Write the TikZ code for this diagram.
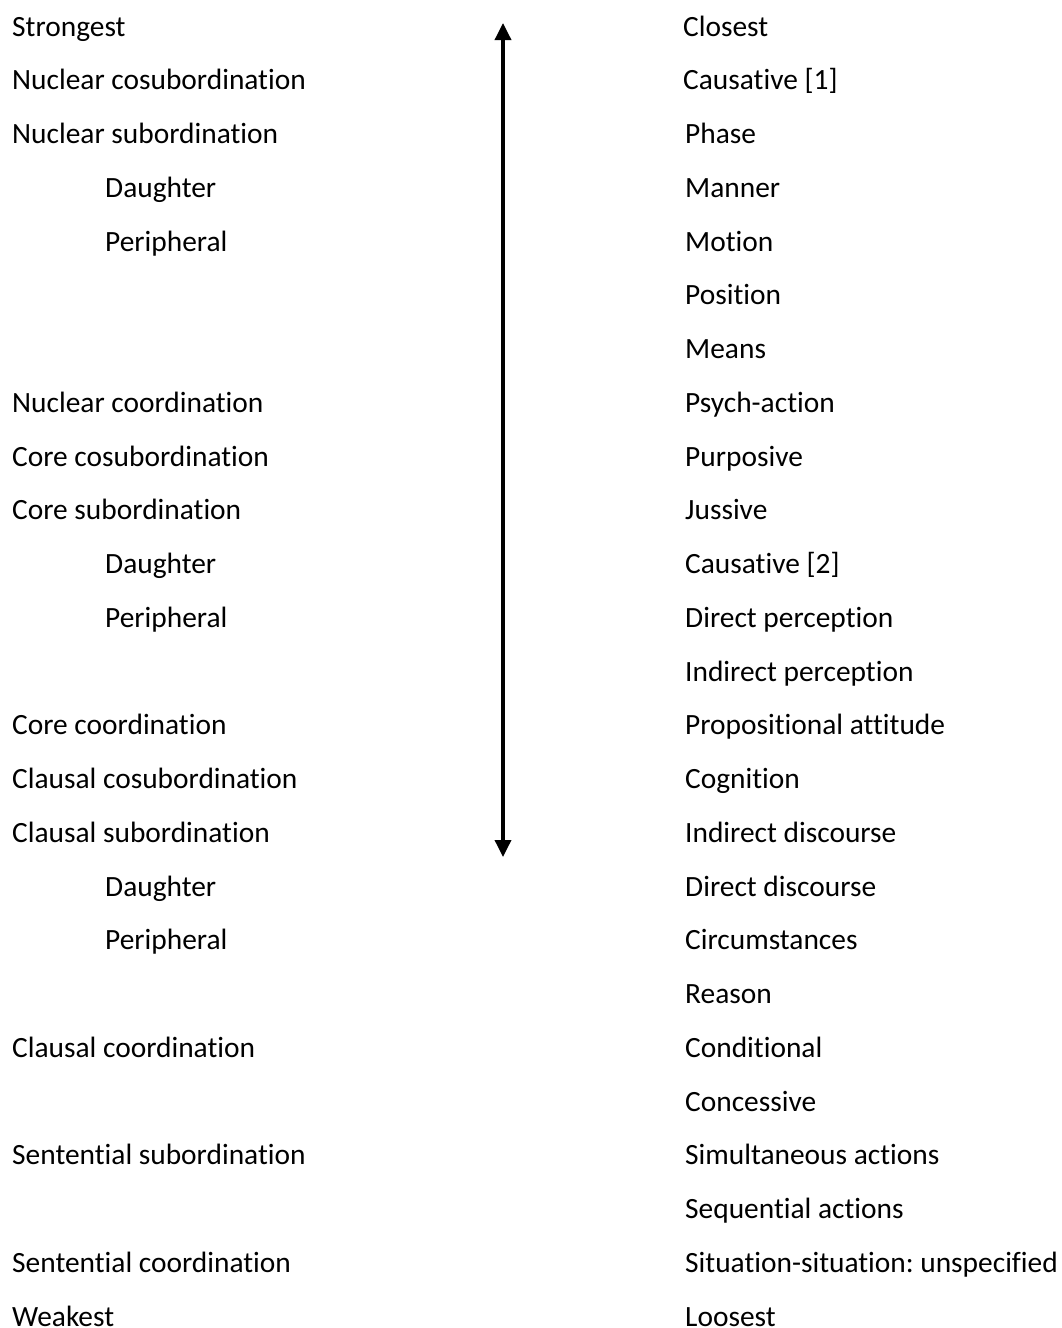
\documentclass[tikz,border=0pt]{standalone}
\usepackage{fontspec}
\setmainfont{Carlito}[Ligatures={NoCommon}]
\usetikzlibrary{arrows.meta}
\begin{document}
\frenchspacing
\begin{tikzpicture}[x=1pt,y=-1pt,
  lbl/.style={anchor=base west,inner sep=0pt,font=\fontsize{29.4}{35}\selectfont},
  scale line/.style={line width=3.5pt,{Triangle[length=17pt,width=16pt]}-{Triangle[length=17pt,width=16pt]}}]
\useasboundingbox (0,0) rectangle (1062,1328);
\def\rowy#1{36+53.75*#1}
% left column
\foreach \t/\i [count=\n] in {Strongest/0,Nuclear cosubordination/1,Nuclear subordination/2,Nuclear coordination/7,Core cosubordination/8,Core subordination/9,Core coordination/13,Clausal cosubordination/14,Clausal subordination/15,Clausal coordination/19,Sentential subordination/21,Sentential coordination/23,Weakest/24}
  \node[lbl] (L\n) at (12,{\rowy{\i}}) {\t};
\foreach \t/\i [count=\n] in {Daughter/3,Peripheral/4,Daughter/10,Peripheral/11,Daughter/16,Peripheral/17}
  \node[lbl] (I\n) at (105,{\rowy{\i}}) {\t};
% right column
\node[lbl] (R1) at (683,{\rowy{0}}) {Closest};
\node[lbl] (R2) at (683,{\rowy{1}}) {Causative [1]};
\foreach \t/\i [count=\n] in {Phase/2,Manner/3,Motion/4,Position/5,Means/6,Psych-action/7,Purposive/8,Jussive/9,Causative [2]/10,Direct perception/11,Indirect perception/12,Propositional attitude/13,Cognition/14,Indirect discourse/15,Direct discourse/16,Circumstances/17,Reason/18,Conditional/19,Concessive/20,Simultaneous actions/21,Sequential actions/22,Situation-situation: unspecified/23,Loosest/24}
  \node[lbl] (Rb\n) at (685,{\rowy{\i}}) {\t};
% arrow
\coordinate (top) at (503,23);
\coordinate (bot) at (503,857);
\draw[scale line] (bot) -- (top);
\end{tikzpicture}
\end{document}
